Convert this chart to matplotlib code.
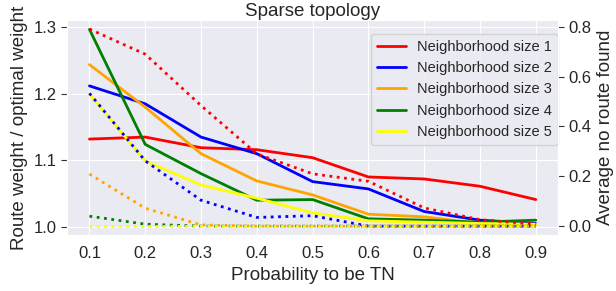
import matplotlib
matplotlib.use('Agg')
import matplotlib.pyplot as plt
import seaborn as sns

# Probabilidade de ser TN (eixo x)
probs = [0.1, 0.2, 0.3, 0.4, 0.5, 0.6, 0.7, 0.8, 0.9]

# Peso da rota / peso otimo (eixo esquerdo, linhas cheias)
weight_n1 = [1.132, 1.135, 1.119, 1.116, 1.104, 1.075, 1.072, 1.061, 1.041]
weight_n2 = [1.212, 1.185, 1.135, 1.110, 1.068, 1.057, 1.023, 1.010, 1.005]
weight_n3 = [1.244, 1.180, 1.110, 1.069, 1.048, 1.019, 1.015, 1.005, 1.003]
weight_n4 = [1.297, 1.124, 1.080, 1.040, 1.041, 1.012, 1.010, 1.007, 1.010]
weight_n5 = [1.200, 1.099, 1.063, 1.043, 1.021, 1.009, 1.007, 1.005, 1.004]

# Media de rotas nao encontradas (eixo direito, pontilhado)
noroute_n1 = [0.791, 0.690, 0.484, 0.290, 0.210, 0.180, 0.073, 0.026, 0.008]
noroute_n2 = [0.533, 0.262, 0.104, 0.035, 0.042, 0.0, 0.0, 0.0, 0.0]
noroute_n3 = [0.209, 0.072, 0.005, 0.0, 0.0, 0.0, 0.0, 0.0, 0.0]
noroute_n4 = [0.040, 0.008, 0.0, 0.0, 0.0, 0.0, 0.0, 0.0, 0.0]
noroute_n5 = [0.0, 0.0, 0.0, 0.0, 0.0, 0.0, 0.0, 0.0, 0.0]

labels = ["Neighborhood size 1", "Neighborhood size 2", "Neighborhood size 3",
          "Neighborhood size 4", "Neighborhood size 5"]
colors = ["red", "blue", "orange", "green", "yellow"]

sns.set_style("darkgrid")
plt.rcParams['font.family'] = ['Liberation Sans', 'DejaVu Sans']

fig, ax = plt.subplots(figsize=(6.16, 2.91), dpi=100)
fig.subplots_adjust(left=0.109, right=0.906, bottom=0.192, top=0.931)
ax2 = ax.twinx()

weights = [weight_n1, weight_n2, weight_n3, weight_n4, weight_n5]
noroutes = [noroute_n1, noroute_n2, noroute_n3, noroute_n4, noroute_n5]

for w, lab, c in zip(weights, labels, colors):
    ax.plot(probs, w, color=c, lw=2, label=lab)
for n, c in zip(noroutes, colors):
    ax2.plot(probs, n, color=c, lw=2, ls=':')

ax.set_xlim(0.06, 0.94)
ax.set_ylim(0.9875, 1.311)
ax2.set_ylim(-0.036, 0.827)
ax.set_xticks(probs)
ax.set_yticks([1.0, 1.1, 1.2, 1.3])
ax2.set_yticks([0.0, 0.2, 0.4, 0.6, 0.8])
ax2.grid(False)

ax.tick_params(axis='x', labelsize=12, length=0, pad=8)
ax.tick_params(axis='y', labelsize=12, left=True, length=4, color='#333333')
ax2.tick_params(axis='y', labelsize=12, right=True, length=4, color='#333333')

ax.set_xlabel('Probability to be TN', fontsize=13.5)
ax.set_ylabel('Route weight / optimal weight', fontsize=13.5)
ax2.set_ylabel('Average no route found', fontsize=13.5)
ax.set_title('Sparse topology', fontsize=13.5, pad=-2)

ax.legend(loc='upper right', fontsize=10.5, bbox_to_anchor=(1.0, 0.935),
          borderaxespad=0)

fig.savefig('out.png', dpi=100)
